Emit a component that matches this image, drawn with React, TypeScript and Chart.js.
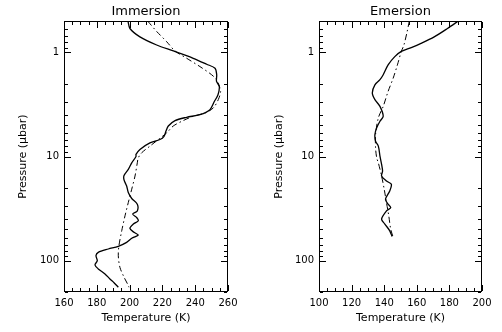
import React, { useEffect, useRef } from "react";
import { Chart, registerables } from "chart.js";

Chart.register(...registerables);

// ---------- Data (pressure in µbar, temperature in K) ----------
const immersionObsP = [0.5, 0.59, 0.71, 0.85, 0.97, 1.14, 1.3, 1.42, 1.64, 1.9, 2.12, 2.55, 3.0, 3.55, 3.96, 4.2, 4.52, 5.1, 5.7, 6.4, 6.87, 7.4, 8.55, 9.55, 10.0, 11.5, 13.3, 15.2, 16.8, 19.2, 22.2, 25.3, 28.7, 33.3, 35.7, 38.5, 41.4, 44.5, 49, 53.5, 56.8, 61, 66.7, 72.8, 77.3, 83.2, 89.6, 100, 110, 120, 134, 150, 163, 180];
const immersionObsT = [199.0, 200.2, 206.3, 216.5, 226.7, 238.8, 247.0, 252.1, 253.1, 253.0, 254.7, 253.9, 251.5, 249.0, 242.9, 234.8, 227.7, 223.6, 222.2, 221.0, 218.5, 212.4, 206.3, 203.9, 203.9, 201.3, 199.2, 196.6, 196.6, 198.2, 199.2, 201.3, 204.7, 204.7, 201.9, 204.3, 205.3, 202.3, 200.2, 202.7, 205.3, 201.3, 198.2, 193.1, 187.0, 180.9, 179.5, 180.3, 178.9, 180.9, 185.0, 188.0, 190.5, 193.1];

const immersionModelP = [0.5, 0.63, 0.79, 0.97, 1.14, 1.37, 1.64, 1.83, 2.12, 2.37, 2.84, 3.42, 3.82, 4.11, 4.52, 5.1, 5.93, 6.87, 7.95, 9.2, 10.3, 11.5, 15.4, 20.6, 27.7, 37.1, 51.7, 71.9, 89.6, 116, 144, 173, 180];
const immersionModelT = [211.0, 216.5, 222.6, 227.7, 234.8, 242.9, 250.0, 253.0, 254.7, 255.5, 254.1, 251.0, 246.0, 238.8, 232.7, 226.6, 222.6, 217.5, 212.4, 207.4, 205.3, 204.7, 203.3, 201.3, 199.2, 197.2, 195.2, 193.5, 193.1, 194.1, 196.6, 199.2, 199.6];

const emersionObsP = [0.5, 0.59, 0.71, 0.82, 0.9, 0.98, 1.1, 1.32, 1.64, 1.83, 2.05, 2.45, 2.84, 3.3, 4.11, 4.59, 5.3, 6.15, 7.13, 7.95, 9.9, 11.9, 13.8, 15.4, 17.2, 18.5, 21.4, 25.7, 28.7, 30.9, 33.3, 39.9, 44.5, 51.7, 58.5];
const emersionObsT = [185.5, 178.8, 170.7, 162.6, 156.6, 150.5, 146.5, 142.4, 139.4, 137.4, 134.3, 132.7, 134.3, 137.4, 139.4, 137.4, 135.4, 134.3, 134.7, 136.4, 137.4, 138.4, 139.0, 138.4, 141.4, 144.4, 143.4, 140.8, 142.4, 144.0, 141.4, 138.4, 140.4, 143.4, 144.8];

const emersionModelP = [0.5, 0.63, 0.85, 0.98, 1.32, 1.77, 2.37, 3.3, 4.26, 6.15, 8.24, 10.3, 11.5, 15.4, 20.6, 27.7, 37.1, 49.9, 59.7];
const emersionModelT = [155.4, 154.1, 152.1, 150.5, 148.1, 145.5, 142.4, 139.4, 136.4, 134.7, 134.7, 135.4, 136.4, 138.4, 140.0, 141.4, 142.8, 144.0, 145.5];

// ---------- Axis labels ----------
const immersionXTicks = [160, 180, 200, 220, 240, 260];
const emersionXTicks = [100, 120, 140, 160, 180, 200];
const pressureTicks = [1, 10, 100];
const pressureRange = [0.5, 200];

const FONT = "'DejaVu Sans', 'Liberation Sans', sans-serif";
const W = 251;
const H = 332;

function makeFramePlugin(xAll: number[], xMajor: number[], yAll: number[], yMajor: number[]) {
  return {
    id: "frameTicks",
    afterDraw(chart: any) {
      const ctx: CanvasRenderingContext2D = chart.ctx;
      const a = chart.chartArea;
      const xs = chart.scales.x;
      const ys = chart.scales.y;
      const L = Math.round(a.left);
      const R = Math.round(a.right) - 1;
      const T = Math.round(a.top);
      const B = Math.round(a.bottom) - 1;
      ctx.save();
      ctx.fillStyle = "#000";
      // frame
      ctx.fillRect(L, T, R - L + 1, 1);
      ctx.fillRect(L, B, R - L + 1, 1);
      ctx.fillRect(L, T, 1, B - T + 1);
      ctx.fillRect(R, T, 1, B - T + 1);
      // x ticks (bottom and top, pointing inward)
      for (const v of xAll) {
        const px = Math.round(xs.getPixelForValue(v));
        const len = xMajor.indexOf(v) >= 0 ? 6 : 3;
        ctx.fillRect(px, B - len, 1, len);
        ctx.fillRect(px, T + 1, 1, len);
      }
      // y ticks (left and right, pointing inward)
      for (const v of yAll) {
        const py = Math.round(ys.getPixelForValue(v));
        const len = yMajor.indexOf(v) >= 0 ? 6 : 3;
        ctx.fillRect(L + 1, py, len, 1);
        ctx.fillRect(R - len, py, len, 1);
      }
      ctx.restore();
    },
  };
}

type PanelProps = {
  title: string;
  obsP: number[];
  obsT: number[];
  modP: number[];
  modT: number[];
  xTicks: number[];
  left: number;
  plotLeft: number;
  plotRight: number;
  yTitlePad: number;
};

function Panel({ title, obsP, obsT, modP, modT, xTicks, left, plotLeft, plotRight, yTitlePad }: PanelProps) {
  const ref = useRef<HTMLCanvasElement>(null);

  useEffect(() => {
    if (!ref.current) return;
    const xMin = xTicks[0];
    const xMax = xTicks[xTicks.length - 1];
    const xStep = (xTicks[1] - xTicks[0]) / 4;
    const xAll: number[] = [];
    for (let v = xMin; v <= xMax + 1e-9; v += xStep) xAll.push(v);
    const yAll: number[] = [];
    for (let d = 0.1; d <= 100; d *= 10) {
      for (let m = 1; m <= 9; m++) {
        const v = +(m * d).toPrecision(3);
        if (v >= pressureRange[0] && v <= pressureRange[1]) yAll.push(v);
      }
    }
    if (yAll.indexOf(pressureRange[1]) < 0) yAll.push(pressureRange[1]);

    const chart = new Chart(ref.current, {
      type: "scatter",
      data: {
        datasets: [
          {
            data: obsP.map((p, i) => ({ x: obsT[i], y: p })),
            showLine: true,
            borderColor: "#000",
            borderWidth: 1.3,
            pointRadius: 0,
            tension: 0.3,
          },
          {
            data: modP.map((p, i) => ({ x: modT[i], y: p })),
            showLine: true,
            borderColor: "#000",
            borderWidth: 1,
            borderDash: [6, 3, 1.5, 3],
            pointRadius: 0,
            tension: 0.3,
          },
        ],
      },
      options: {
        responsive: false,
        animation: false,
        devicePixelRatio: 1,
        events: [],
        layout: { padding: { left: 0, right: W - plotRight, top: 0, bottom: 0 } },
        plugins: {
          legend: { display: false },
          tooltip: { enabled: false },
          title: {
            display: true,
            fullSize: false,
            text: title,
            color: "#000",
            font: { family: FONT, size: 13, weight: "normal" },
            padding: { top: 3.5, bottom: 1.9 },
          },
        },
        scales: {
          x: {
            type: "linear",
            min: xMin,
            max: xMax,
            afterFit: (s: any) => {
              s.height = H - 292;
            },
            afterBuildTicks: (s: any) => {
              s.ticks = xAll.map((v) => ({ value: v }));
            },
            ticks: {
              autoSkip: false,
              maxRotation: 0,
              padding: 5,
              color: "#000",
              font: { family: FONT, size: 10 },
              callback: (v: any) => (xTicks.indexOf(Number(v)) >= 0 ? String(v) : ""),
            },
            grid: { display: false, drawTicks: false },
            border: { display: false },
            title: {
              display: true,
              text: "Temperature (K)",
              color: "#000",
              font: { family: FONT, size: 11 },
              padding: { top: 0, bottom: 7.4 },
            },
          },
          y: {
            type: "logarithmic",
            reverse: true,
            min: pressureRange[0],
            max: pressureRange[1],
            afterFit: (s: any) => {
              s.width = plotLeft;
            },
            afterBuildTicks: (s: any) => {
              s.ticks = yAll.map((v) => ({ value: v }));
            },
            ticks: {
              autoSkip: false,
              padding: 5,
              color: "#000",
              font: { family: FONT, size: 10 },
              callback: (v: any) => (pressureTicks.indexOf(Number(v)) >= 0 ? String(v) : ""),
            },
            grid: { display: false, drawTicks: false },
            border: { display: false },
            title: {
              display: true,
              text: "Pressure (\u03bcbar)",
              color: "#000",
              font: { family: FONT, size: 11 },
              padding: { top: yTitlePad, bottom: 0 },
            },
          },
        },
      } as any,
      plugins: [makeFramePlugin(xAll, xTicks, yAll, pressureTicks)],
    });
    return () => chart.destroy();
  }, []);

  return (
    <canvas
      ref={ref}
      width={W}
      height={H}
      style={{ position: "absolute", left, top: 0, width: W, height: H }}
    />
  );
}

export default function App() {
  return (
    <div style={{ position: "absolute", left: 0, top: 0, width: 502, height: 332, background: "#fff" }}>
      <Panel
        title="Immersion"
        obsP={immersionObsP}
        obsT={immersionObsT}
        modP={immersionModelP}
        modT={immersionModelT}
        xTicks={immersionXTicks}
        left={0}
        plotLeft={64}
        plotRight={228}
        yTitlePad={17}
      />
      <Panel
        title="Emersion"
        obsP={emersionObsP}
        obsT={emersionObsT}
        modP={emersionModelP}
        modT={emersionModelT}
        xTicks={emersionXTicks}
        left={251}
        plotLeft={68}
        plotRight={231}
        yTitlePad={22}
      />
    </div>
  );
}
